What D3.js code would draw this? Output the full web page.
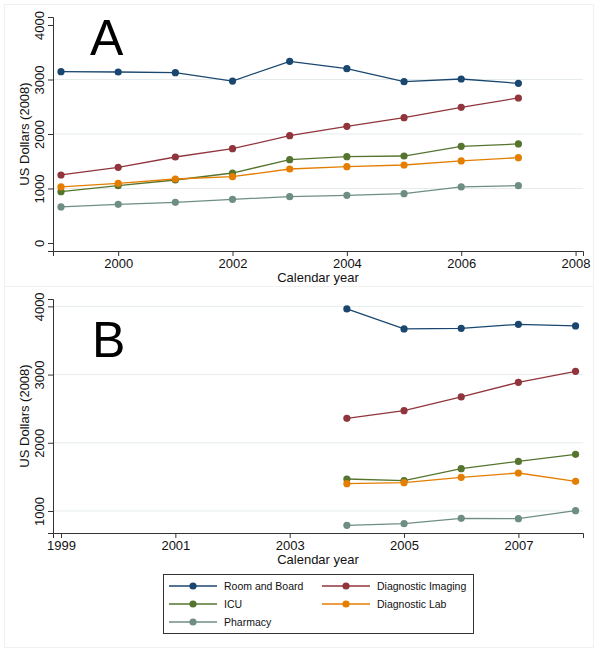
<!DOCTYPE html>
<html><head><meta charset="utf-8">
<script src="https://cdn.jsdelivr.net/npm/d3@7/dist/d3.min.js"></script>
<style>body{margin:0;background:#fff}svg{display:block;font-family:"Liberation Sans",Arial,Helvetica,sans-serif}</style>
</head><body><svg id="c" width="601" height="655"></svg>
<script>
const seriesNames = ["Room and Board","Diagnostic Imaging","ICU","Diagnostic Lab","Pharmacy"];
const seriesColors = ["#1a476f","#90353b","#55752f","#e37e00","#6e8e84"];

const yearsA = [1999,2000,2001,2002,2003,2004,2005,2006,2007];
const roomA    = [3143,3138,3125,2972,3334,3198,2960,3009,2930];
const imagingA = [1248,1389,1578,1730,1969,2141,2299,2490,2661];
const icuA     = [941,1052,1156,1284,1529,1584,1596,1774,1817];
const labA     = [1028,1095,1174,1217,1358,1401,1431,1505,1566];
const pharmA   = [661,710,747,802,850,875,905,1028,1052];

const yearsB = [2004,2005,2006,2007,2008];
const roomB    = [3962,3669,3678,3736,3713];
const imagingB = [2358,2471,2672,2886,3047];
const icuB     = [1469,1444,1620,1727,1830];
const labB     = [1400,1415,1493,1557,1434];
const pharmB   = [789,814,892,887,1004];

const xTicksA = [2000,2002,2004,2006,2008];
const yTicksA = [0,1000,2000,3000,4000];
const gridA = [1000,2000,3000];
const xTicksB = [1999,2001,2003,2005,2007];
const yTicksB = [1000,2000,3000,4000];
const gridB = [1000,2000,3000,4000];

const svg = d3.select("#c");
const bd = "#f0f0f0";
svg.append("rect").attr("x",4.5).attr("y",4.5).attr("width",589).attr("height",282).attr("fill","none").attr("stroke",bd);
svg.append("rect").attr("x",4.5).attr("y",286.5).attr("width",589).attr("height",361).attr("fill","none").attr("stroke",bd);

function panel(cfg){
  const x = d3.scaleLinear().domain([1998.86,2008.13]).range([53,583]);
  const y = d3.scaleLinear().domain(cfg.ydom).range([cfg.bottom,cfg.top]);
  const g = svg.append("g");
  g.selectAll(".grid").data(cfg.grid).enter().append("line")
    .attr("x1",53).attr("x2",583).attr("y1",d=>y(d)).attr("y2",d=>y(d))
    .attr("stroke","#e6ecec").attr("stroke-width",1);
  const yAx = g.append("g").attr("transform","translate(53,0)")
    .call(d3.axisLeft(y).tickValues(cfg.yticks).tickSize(5).tickFormat(d3.format("d")));
  yAx.select(".domain").attr("stroke","#333");
  yAx.selectAll(".tick line").attr("stroke","#333");
  yAx.selectAll(".tick text").attr("font-size",13).attr("fill","#111")
    .attr("text-anchor","middle").attr("transform","rotate(-90)")
    .attr("x",0).attr("y",-9).attr("dy","0");
  const xAx = g.append("g").attr("transform",`translate(0,${cfg.bottom})`)
    .call(d3.axisBottom(x).tickValues(cfg.xticks).tickSize(5).tickFormat(d3.format("d")));
  xAx.select(".domain").attr("stroke","#333");
  xAx.selectAll(".tick line").attr("stroke","#333");
  xAx.selectAll(".tick text").attr("font-size",13).attr("fill","#111").attr("y",8).attr("dy","0.71em");
  g.append("text").attr("x",318).attr("y",cfg.bottom+31).attr("text-anchor","middle")
    .attr("font-size",13).attr("fill","#111").text("Calendar year");
  g.append("text").attr("transform",`translate(29,${(cfg.top+cfg.bottom)/2}) rotate(-90)`)
    .attr("text-anchor","middle").attr("font-size",13).attr("fill","#111").text("US Dollars (2008)");
  g.append("text").attr("x",cfg.lx).attr("y",cfg.ly).attr("font-size",50).attr("fill","#000").text(cfg.letter);
  const line = d3.line().x(d=>x(d[0])).y(d=>y(d[1]));
  cfg.series.forEach((vals,i)=>{
    const pts = cfg.years.map((yr,j)=>[yr,vals[j]]);
    g.append("path").datum(pts).attr("d",line).attr("fill","none")
      .attr("stroke",seriesColors[i]).attr("stroke-width",1.3);
    g.selectAll(null).data(pts).enter().append("circle")
      .attr("cx",d=>x(d[0])).attr("cy",d=>y(d[1])).attr("r",3.6).attr("fill",seriesColors[i]);
  });
}

panel({ydom:[-147,4147],top:17,bottom:251,grid:gridA,yticks:yTicksA,xticks:xTicksA,
  years:yearsA,series:[roomA,imagingA,icuA,labA,pharmA],letter:"A",lx:90,ly:55});
panel({ydom:[677,4108],top:299,bottom:533,grid:gridB,yticks:yTicksB,xticks:xTicksB,
  years:yearsB,series:[roomB,imagingB,icuB,labB,pharmB],letter:"B",lx:92,ly:357});

const lg = svg.append("g");
lg.append("rect").attr("x",163.5).attr("y",574.5).attr("width",310).attr("height",59)
  .attr("fill","#fff").attr("stroke","#333");
const pos = [[169,586],[322,586],[169,604],[322,604],[169,622]];
seriesNames.forEach((n,i)=>{
  const [lx,ly] = pos[i];
  lg.append("line").attr("x1",lx).attr("x2",lx+48).attr("y1",ly).attr("y2",ly)
    .attr("stroke",seriesColors[i]).attr("stroke-width",1.3);
  lg.append("circle").attr("cx",lx+24).attr("cy",ly).attr("r",3.6).attr("fill",seriesColors[i]);
  lg.append("text").attr("x",lx+55).attr("y",ly).attr("dy","0.35em").attr("font-size",10.5)
    .attr("fill","#111").text(n);
});
</script></body></html>
